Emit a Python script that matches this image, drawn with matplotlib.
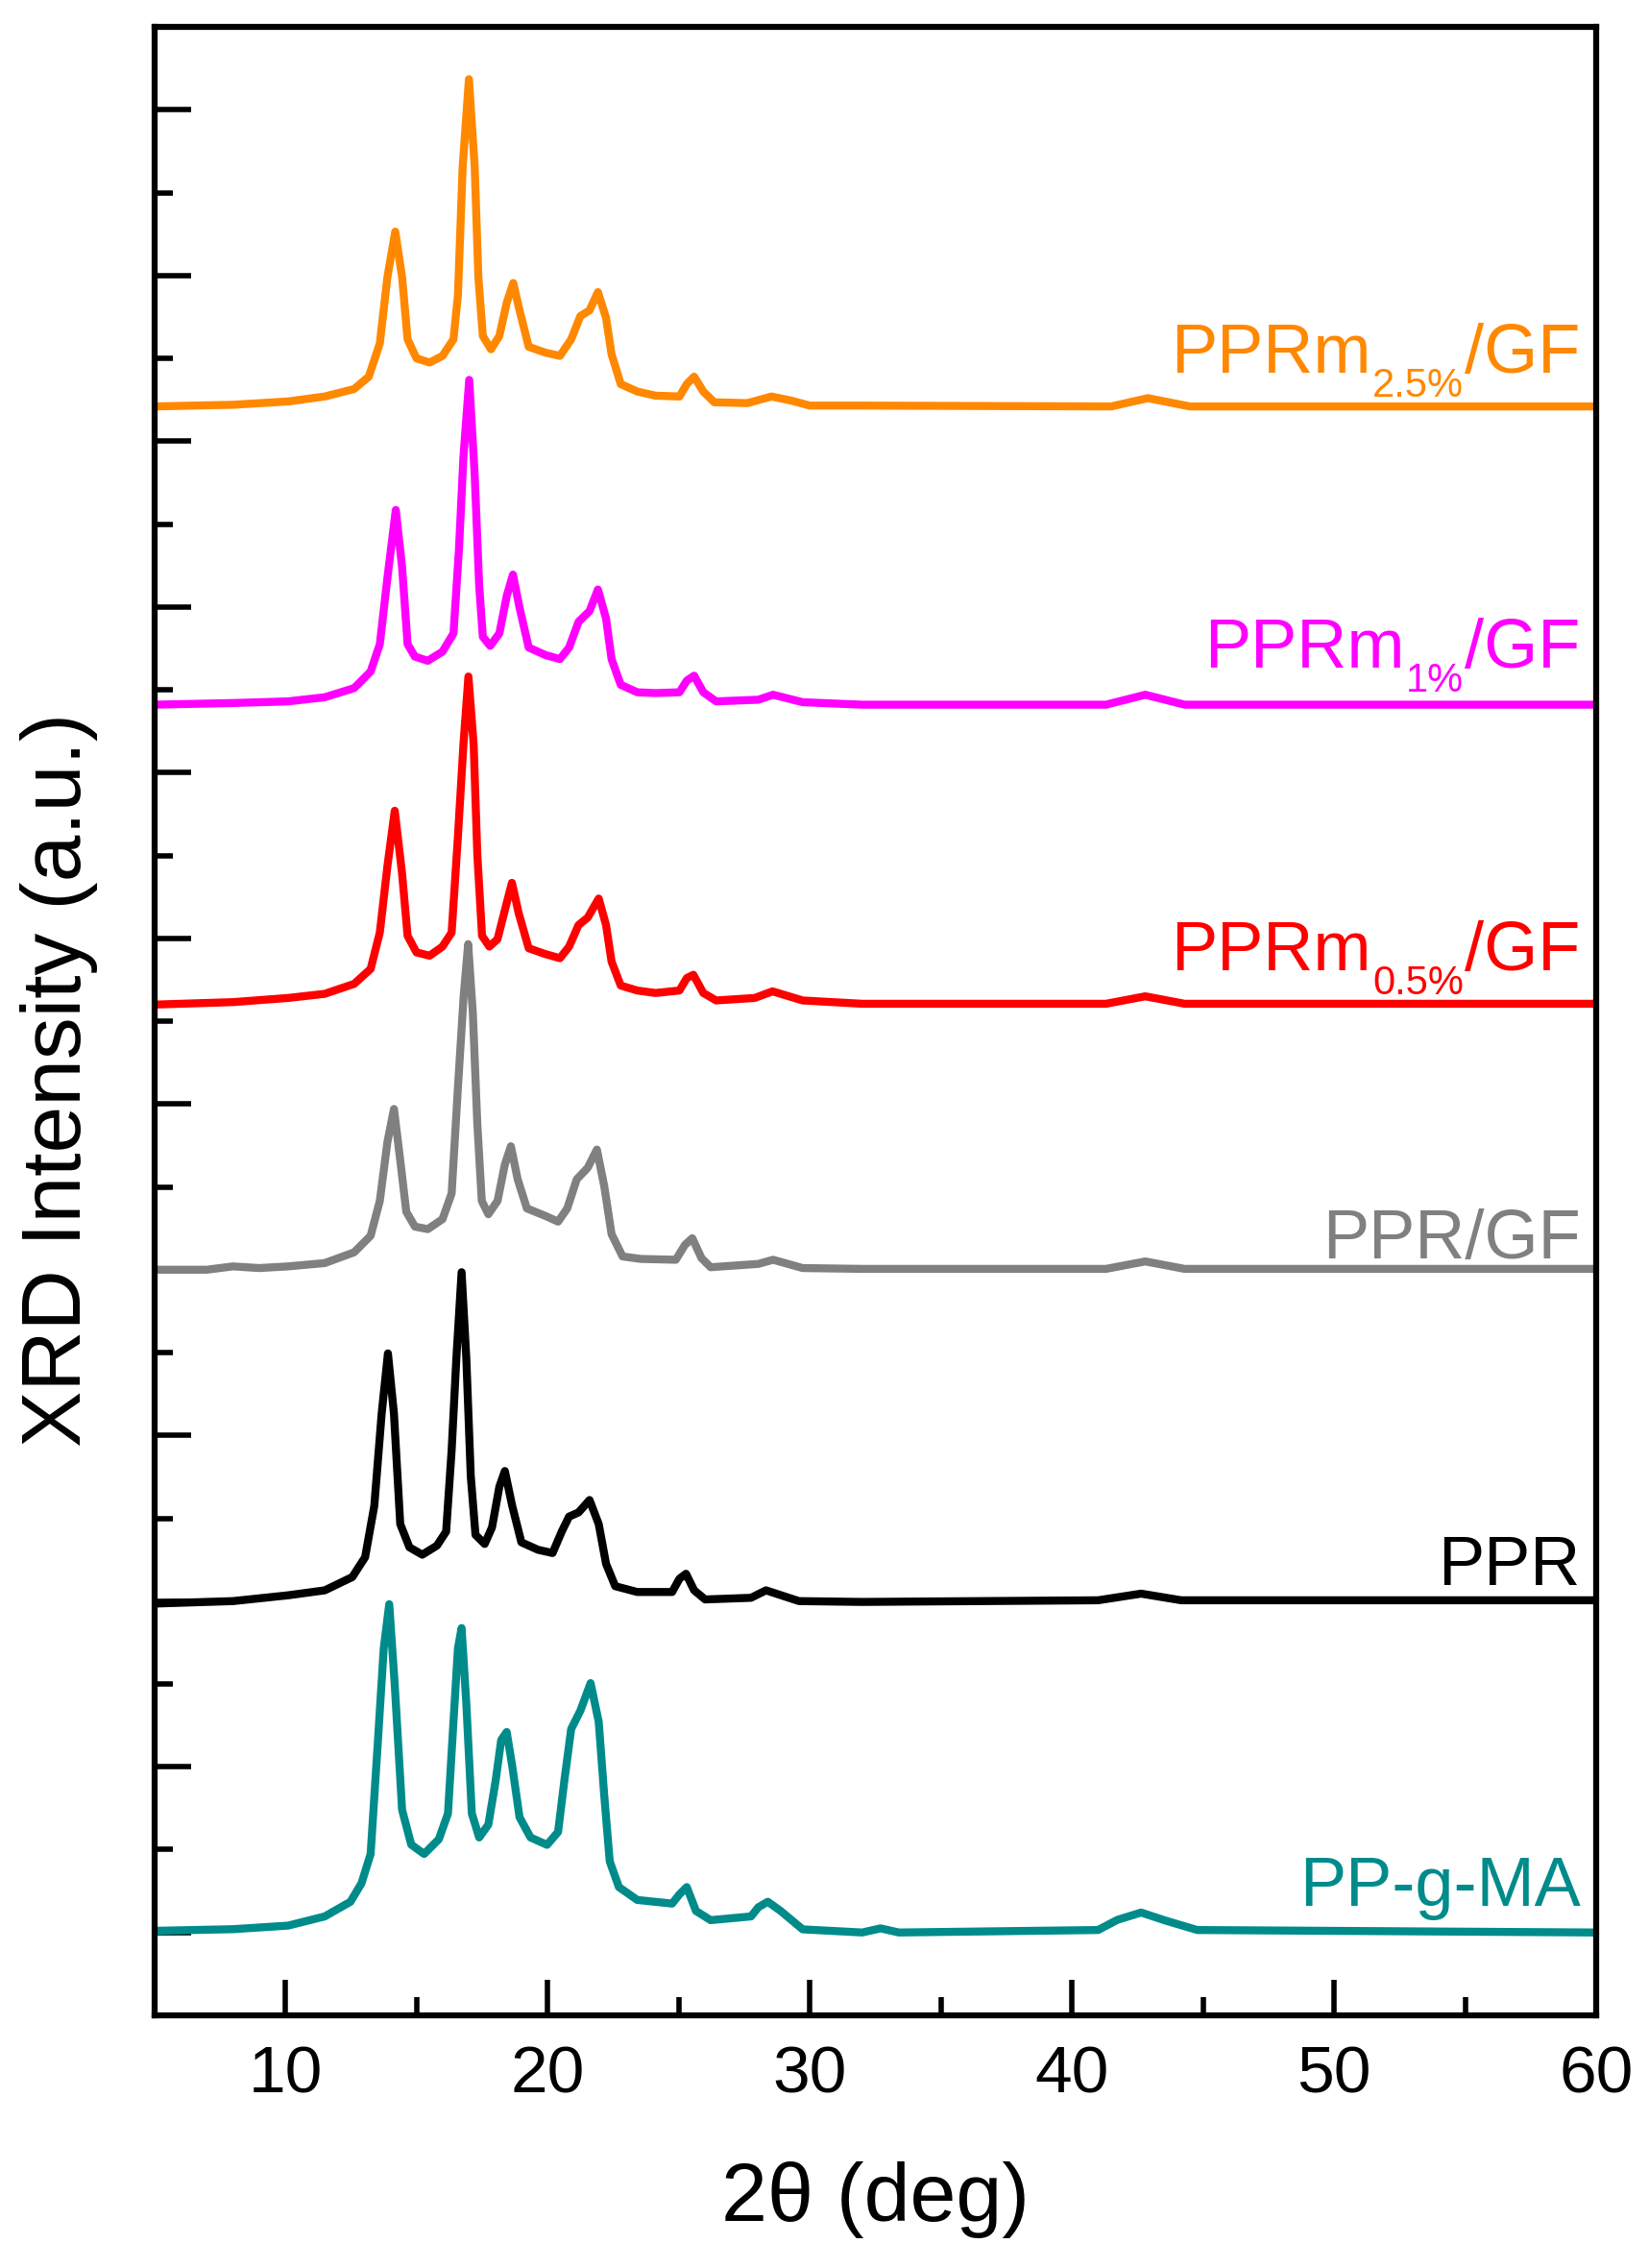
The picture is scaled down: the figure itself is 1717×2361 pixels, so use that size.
import numpy as np
import matplotlib
matplotlib.use("Agg")
import matplotlib.pyplot as plt
from matplotlib.ticker import MultipleLocator, NullFormatter

plt.rcParams["font.family"] = ["Liberation Sans", "DejaVu Sans"]

# --- data (2theta in deg, stacked intensity in a.u.) ---
tt_25 = [5, 8, 10.1, 11.5, 12.62, 13.18, 13.6, 13.89, 14.19, 14.45, 14.66, 15.0, 15.5,
         15.99, 16.41, 16.58, 16.76, 17.0, 17.22, 17.36, 17.53, 17.84, 18.16, 18.44,
         18.69, 18.93, 19.28, 19.91, 20.47, 20.9, 21.25, 21.6, 21.92, 22.23, 22.44,
         22.79, 23.42, 24.12, 25.03, 25.31, 25.59, 25.94, 26.36, 27.62, 28.54, 29.3,
         30.0, 32.0, 41.5, 42.9, 44.5, 60]
int_25 = [18.42, 18.44, 18.48, 18.54, 18.63, 18.78, 19.18, 19.98, 20.53, 19.98, 19.23,
          19.0, 18.95, 19.03, 19.23, 19.76, 21.31, 22.37, 21.31, 19.98, 19.27, 19.11,
          19.27, 19.67, 19.91, 19.58, 19.14, 19.07, 19.03, 19.23, 19.51, 19.58, 19.80,
          19.49, 19.05, 18.69, 18.6, 18.55, 18.54, 18.69, 18.78, 18.6, 18.47, 18.46,
          18.54, 18.49, 18.43, 18.43, 18.42, 18.52, 18.42, 18.42]

tt_1 = [5, 8, 10.1, 11.5, 12.62, 13.25, 13.6, 13.89, 14.21, 14.45, 14.66, 14.94, 15.43,
        15.99, 16.41, 16.62, 16.79, 17.01, 17.22, 17.39, 17.53, 17.81, 18.16, 18.44,
        18.68, 18.93, 19.28, 19.91, 20.47, 20.82, 21.18, 21.6, 21.92, 22.23, 22.44,
        22.79, 23.42, 24.12, 25.03, 25.31, 25.59, 25.94, 26.43, 28.04, 28.6, 29.73,
        32.0, 41.3, 42.8, 44.3, 60]
int_1 = [14.82, 14.84, 14.86, 14.91, 15.02, 15.22, 15.55, 16.35, 17.17, 16.48, 15.55,
         15.4, 15.35, 15.46, 15.68, 16.70, 17.81, 18.74, 17.59, 16.26, 15.64, 15.53,
         15.68, 16.13, 16.39, 15.99, 15.51, 15.42, 15.37, 15.51, 15.82, 15.95, 16.21,
         15.86, 15.37, 15.06, 14.97, 14.96, 14.97, 15.11, 15.17, 14.97, 14.86, 14.88,
         14.94, 14.85, 14.82, 14.82, 14.94, 14.82, 14.82]

tt_05 = [5, 8, 10.1, 11.5, 12.62, 13.25, 13.6, 13.89, 14.17, 14.45, 14.66, 15.0, 15.5,
         15.99, 16.34, 16.58, 16.79, 16.98, 17.18, 17.32, 17.5, 17.78, 18.09, 18.37,
         18.64, 18.9, 19.28, 19.91, 20.47, 20.82, 21.18, 21.53, 21.95, 22.23, 22.44,
         22.79, 23.42, 24.12, 25.03, 25.31, 25.56, 25.94, 26.43, 27.9, 28.58, 29.73,
         32.0, 41.3, 42.8, 44.3, 60]
int_05 = [11.2, 11.23, 11.28, 11.33, 11.45, 11.63, 12.07, 12.87, 13.54, 12.78, 12.03,
          11.83, 11.79, 11.9, 12.07, 13.23, 14.34, 15.16, 14.34, 13.01, 12.03, 11.9,
          11.99, 12.34, 12.67, 12.3, 11.88, 11.81, 11.76, 11.9, 12.16, 12.25, 12.48,
          12.16, 11.72, 11.43, 11.37, 11.34, 11.37, 11.52, 11.56, 11.34, 11.25, 11.28,
          11.36, 11.25, 11.21, 11.21, 11.3, 11.21, 11.21]

tt_gf = [5, 7, 8, 9, 10.1, 11.5, 12.62, 13.25, 13.6, 13.89, 14.14, 14.38, 14.61, 14.94,
         15.43, 15.99, 16.34, 16.58, 16.8, 16.97, 17.15, 17.32, 17.49, 17.74, 18.09,
         18.37, 18.6, 18.86, 19.21, 19.91, 20.4, 20.75, 21.11, 21.53, 21.88, 22.16,
         22.44, 22.86, 23.56, 24.89, 25.24, 25.52, 25.87, 26.22, 28.04, 28.6, 29.73,
         32.0, 41.3, 42.8, 44.3, 60]
int_gf = [8.0, 8.0, 8.04, 8.02, 8.04, 8.08, 8.21, 8.41, 8.83, 9.54, 9.94, 9.32, 8.7,
          8.52, 8.49, 8.61, 8.92, 10.2, 11.31, 11.93, 11.09, 9.76, 8.83, 8.67, 8.83,
          9.27, 9.49, 9.09, 8.74, 8.65, 8.58, 8.74, 9.09, 9.23, 9.45, 9.01, 8.43, 8.16,
          8.13, 8.12, 8.3, 8.38, 8.14, 8.03, 8.07, 8.12, 8.02, 8.01, 8.01, 8.1, 8.01, 8.01]

tt_ppr = [5, 8, 10.1, 11.5, 12.55, 13.04, 13.39, 13.67, 13.91, 14.14, 14.38, 14.73,
          15.22, 15.78, 16.13, 16.34, 16.52, 16.72, 16.9, 17.07, 17.25, 17.6, 17.88,
          18.16, 18.37, 18.65, 19.0, 19.63, 20.19, 20.54, 20.82, 21.18, 21.6, 21.95,
          22.23, 22.58, 23.42, 24.75, 25.03, 25.28, 25.59, 26.01, 27.76, 28.33, 29.59,
          32.0, 41.0, 42.64, 44.17, 60]
int_ppr = [3.97, 4.0, 4.07, 4.13, 4.29, 4.53, 5.15, 6.26, 6.99, 6.26, 4.93, 4.65, 4.56,
           4.67, 4.84, 5.82, 6.93, 7.97, 6.93, 5.51, 4.8, 4.69, 4.89, 5.38, 5.57, 5.15,
           4.71, 4.62, 4.58, 4.84, 5.02, 5.07, 5.22, 4.93, 4.45, 4.18, 4.11, 4.11, 4.27,
           4.33, 4.13, 4.02, 4.04, 4.13, 4.0, 3.99, 4.01, 4.09, 4.01, 4.01]

tt_ma = [5, 8, 10.1, 11.5, 12.48, 12.9, 13.25, 13.53, 13.75, 13.96, 14.17, 14.45, 14.8,
         15.29, 15.85, 16.2, 16.41, 16.58, 16.72, 16.9, 17.11, 17.39, 17.74, 18.02,
         18.23, 18.44, 18.65, 18.93, 19.35, 19.98, 20.4, 20.64, 20.9, 21.25, 21.64,
         21.95, 22.16, 22.37, 22.72, 23.42, 24.75, 25.03, 25.31, 25.66, 26.22, 27.76,
         28.04, 28.4, 28.89, 29.73, 32.0, 32.7, 33.4, 41.0, 41.73, 42.64, 43.56, 44.78, 60]
int_ma = [0.02, 0.04, 0.083, 0.194, 0.371, 0.593, 0.948, 2.323, 3.431, 3.963, 2.988,
          1.48, 1.06, 0.948, 1.125, 1.436, 2.544, 3.431, 3.675, 2.766, 1.436, 1.147,
          1.302, 1.835, 2.323, 2.42, 2.012, 1.391, 1.147, 1.058, 1.214, 1.835, 2.456,
          2.677, 3.01, 2.544, 1.657, 0.859, 0.548, 0.393, 0.349, 0.46, 0.548, 0.26,
          0.149, 0.194, 0.305, 0.371, 0.26, 0.038, 0.0, 0.05, 0.0, 0.03, 0.152, 0.241,
          0.145, 0.03, 0.0]

# label = (main part, subscript, tail)
label_main = ["PPRm", "PPRm", "PPRm", "PPR/GF", "PPR", "PP-g-MA"]
label_sub = ["2.5%", "1%", "0.5%", "", "", ""]
label_tail = ["/GF", "/GF", "/GF", "", "", ""]
label_y = [18.83, 15.27, 11.61, 8.14, 4.2, 0.32]
colors = ["#FF8800", "#FF00FF", "#FF0000", "#808080", "#000000", "#008B8B"]

series = [(tt_25, int_25), (tt_1, int_1), (tt_05, int_05),
          (tt_gf, int_gf), (tt_ppr, int_ppr), (tt_ma, int_ma)]

# --- figure ---
fig = plt.figure(figsize=(17.17, 23.61), dpi=100)
ax = fig.add_axes([0.0936, 0.1114, 0.8744, 0.8767])

for (xs, ys), c in zip(series, colors):
    ax.plot(xs, ys, color=c, lw=6, solid_joinstyle="round")

x_right = 59.4
for main, sub, tail, ly, c in zip(label_main, label_sub, label_tail, label_y, colors):
    if not sub:
        ax.text(x_right, ly, main, color=c, fontsize=52, ha="right", va="baseline")
        continue
    t_tail = ax.text(x_right, ly, tail, color=c, fontsize=52, ha="right", va="baseline")
    t_sub = ax.annotate(sub, xy=(0, ly), xycoords=(t_tail, "data"),
                        xytext=(-1, -18), textcoords="offset points",
                        color=c, fontsize=30, ha="right", va="baseline")
    ax.annotate(main, xy=(0, ly), xycoords=(t_sub, "data"),
                xytext=(-1, 0), textcoords="offset points",
                color=c, fontsize=52, ha="right", va="baseline")

ax.set_xlim(5, 60)
ax.set_ylim(-1, 23)

ax.xaxis.set_major_locator(MultipleLocator(10))
ax.xaxis.set_minor_locator(MultipleLocator(5))
ax.yaxis.set_major_locator(MultipleLocator(2))
ax.yaxis.set_minor_locator(MultipleLocator(1))
ax.yaxis.set_major_formatter(NullFormatter())

ax.tick_params(which="both", direction="in", top=False, right=False, width=4)
ax.tick_params(which="major", length=27)
ax.tick_params(which="minor", length=14)
ax.tick_params(axis="x", labelsize=50, pad=22)

for s in ax.spines.values():
    s.set_linewidth(4.5)

fig.text(0.036, 0.524, "XRD Intensity (a.u.)", rotation=90, fontsize=63,
         ha="center", va="center")
fig.text(0.5307, 0.0208, "2\u03b8 (deg)", fontsize=62, ha="center", va="baseline")

fig.savefig("out.png", dpi=100)
